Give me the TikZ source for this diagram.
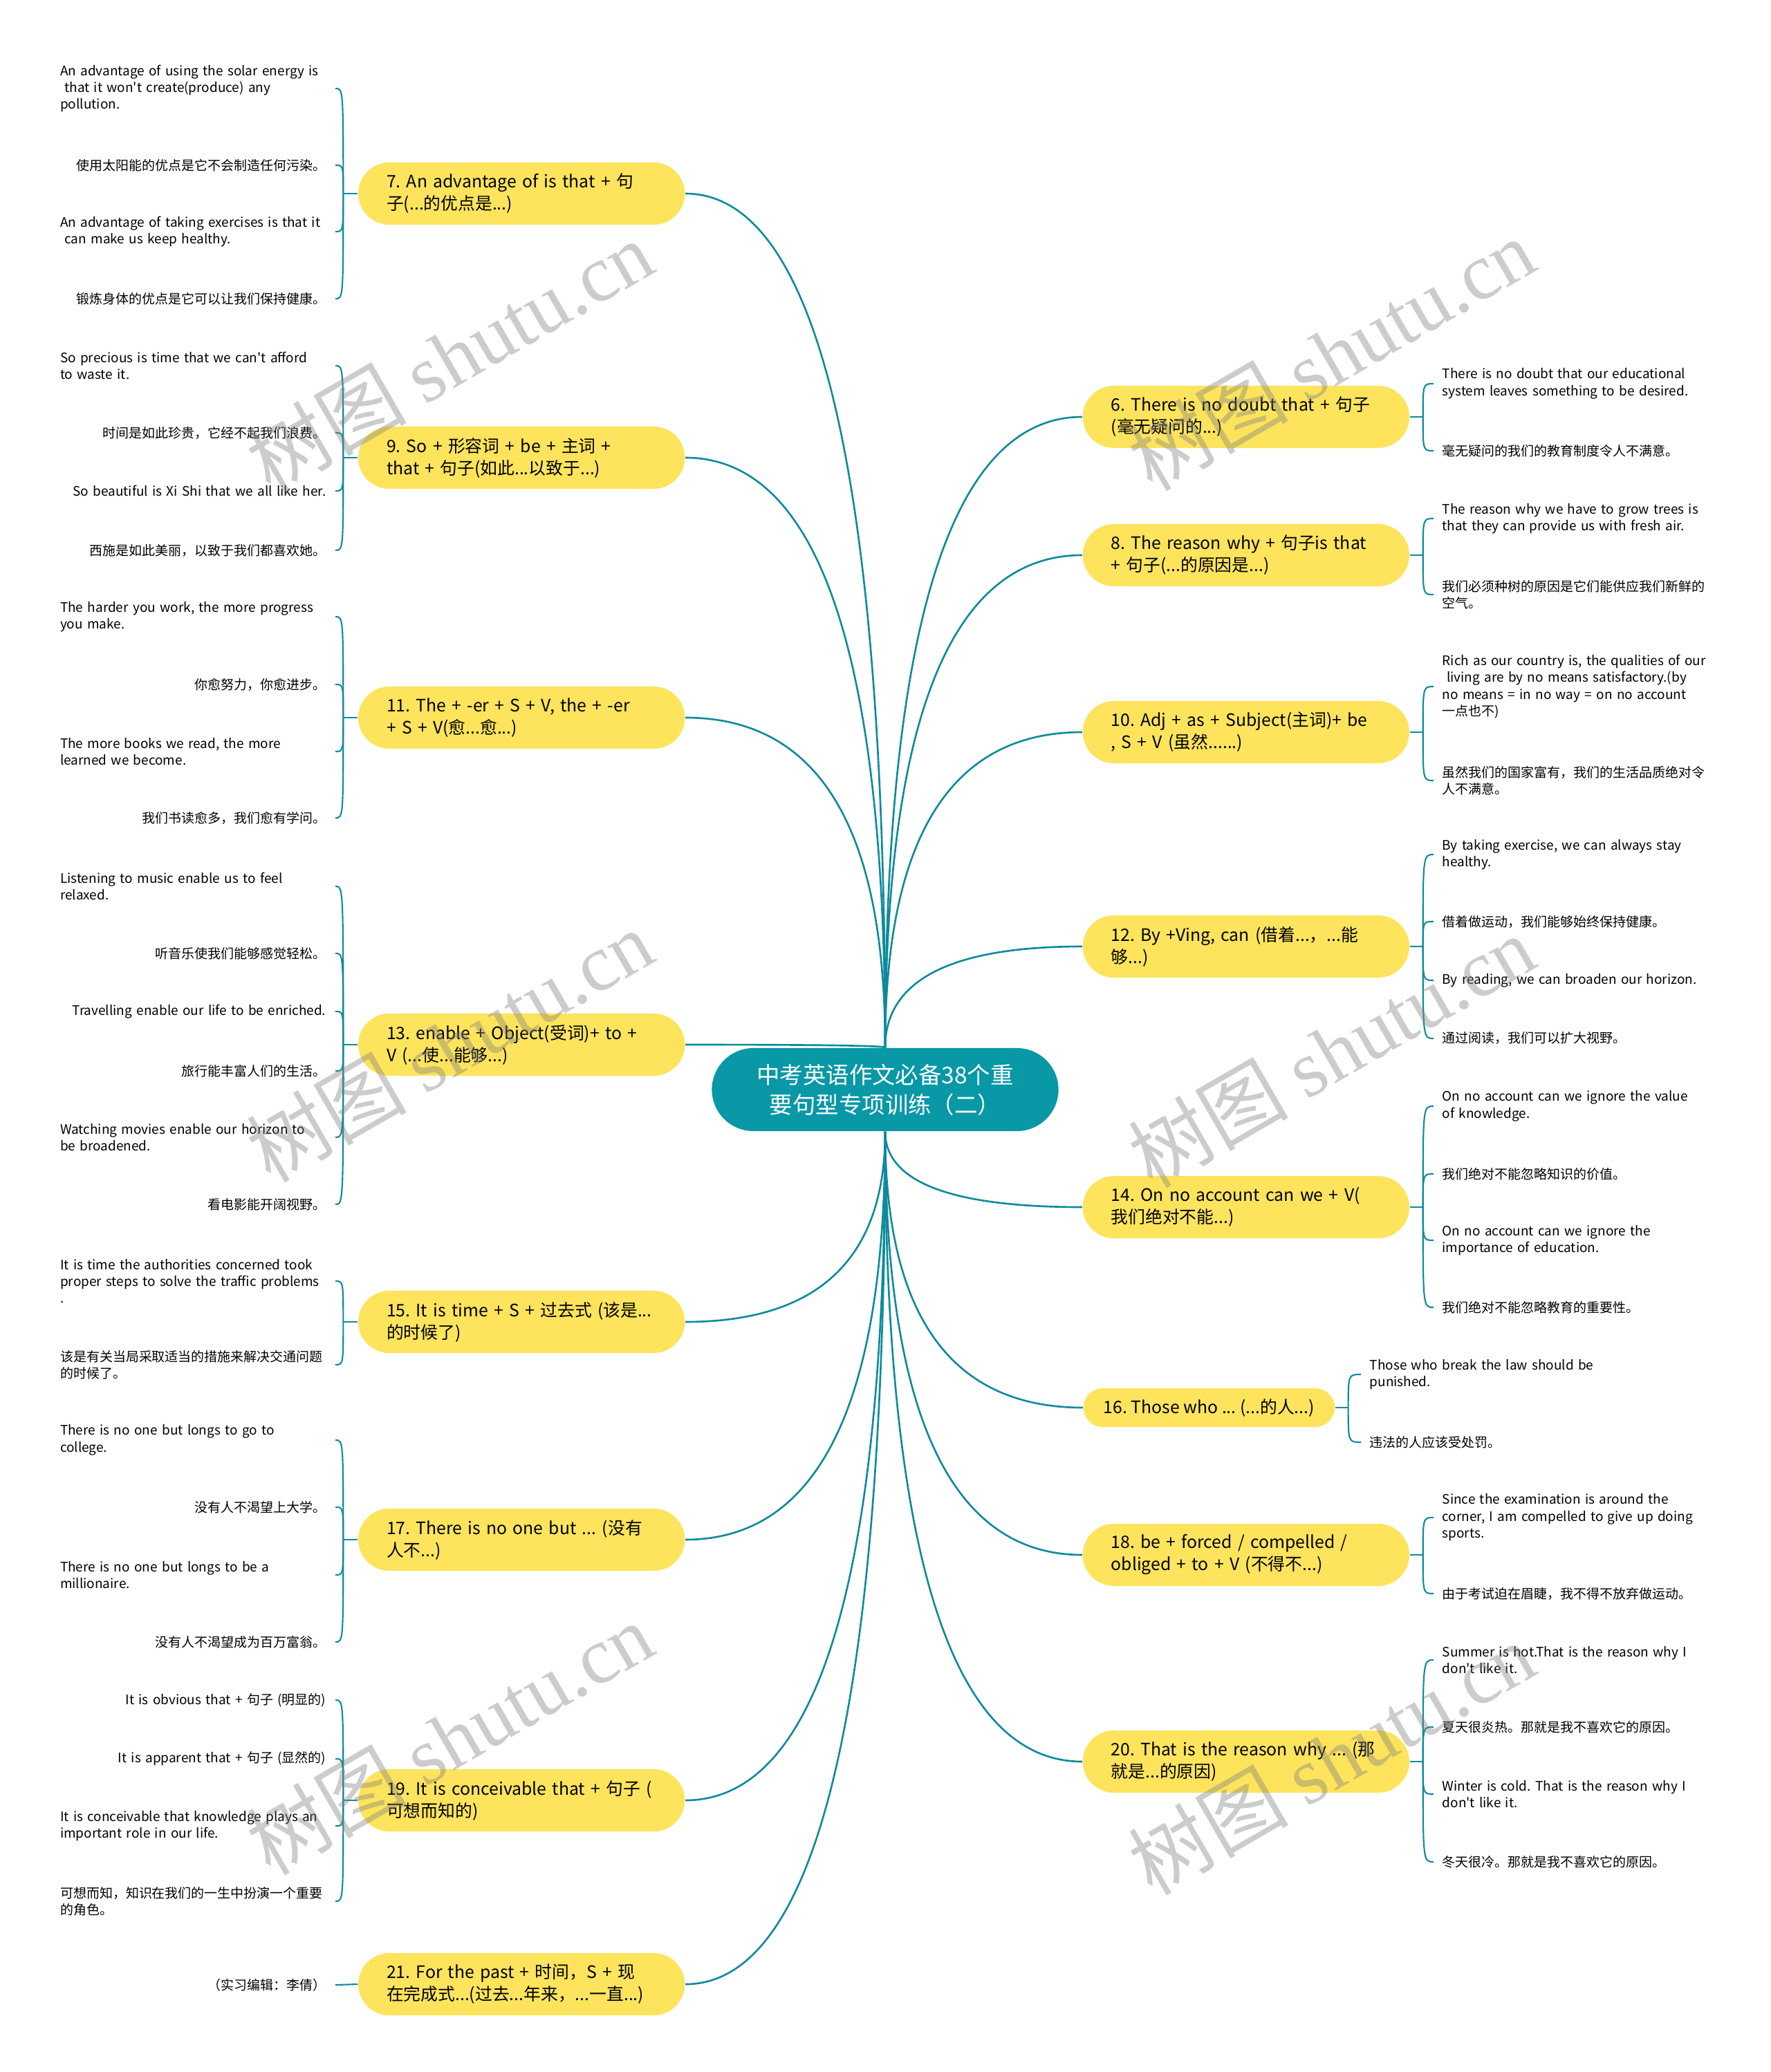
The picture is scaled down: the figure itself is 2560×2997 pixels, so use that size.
\documentclass[tikz,border=0pt]{standalone}
\usepackage{fontspec}
\setmainfont{Noto Sans CJK SC}
\newfontfamily\wmfont{Liberation Serif}
\usetikzlibrary{calc}

\definecolor{rootteal}{RGB}{8,152,166}
\definecolor{lineteal}{RGB}{14,139,155}
\definecolor{topicyellow}{RGB}{253,228,92}

\pgfdeclarelayer{background}
\pgfsetlayers{background,main}

\tikzset{
  rootnode/.style={fill=rootteal, text=white, rounded corners=0.6cm, minimum width=5.01cm,
    minimum height=1.2cm, align=center, font=\fontsize{9.5pt}{12.2pt}\selectfont},
  topic/.style={fill=topicyellow, rounded corners=0.45cm, minimum height=0.9cm, text width=3.9cm,
    inner xsep=0.41cm, inner ysep=0.08cm, align=left, font=\fontsize{7.05pt}{9.1pt}\selectfont},
  topicshort/.style={fill=topicyellow, rounded corners=0.28cm, minimum height=0.56cm,
    inner xsep=0.29cm, inner ysep=0.05cm, font=\fontsize{7.05pt}{9.1pt}\selectfont},
  noteL/.style={anchor=east, inner xsep=0.13cm, inner ysep=0pt, text width=3.84cm, align=left,
    font=\fontsize{5.4pt}{6.95pt}\selectfont},
  noteLone/.style={noteL, align=right},
  noteR/.style={anchor=west, inner xsep=0.12cm, inner ysep=0pt, text width=3.9cm, align=left,
    font=\fontsize{5.4pt}{6.95pt}\selectfont},
  branch/.style={draw=lineteal, line width=0.75pt},
  twig/.style={draw=lineteal, line width=0.6pt},
  watermark/.style={text=gray, text opacity=0.4, rotate=30, font=\fontsize{33pt}{33pt}\selectfont}
}

\begin{document}
\frenchspacing
\begin{tikzpicture}[x=0.01cm, y=-0.01cm]

\useasboundingbox (0,0) rectangle (2560,2997);

%%%%%%%%%%%%%%%%%%%%%%%%
% centre
%%%%%%%%%%%%%%%%%%%%%%%%

\node[rootnode] (root) at (1280,1576) {中考英语作文必备38个重\\要句型专项训练（二）};

%%%%%%%%%%%%%%%%%%%%%%%%
% left topics
%%%%%%%%%%%%%%%%%%%%%%%%

\node[topic, anchor=east] (b7) at (991,280) {7. An advantage of is that + 句\\子(...的优点是...)};
\node[topic, anchor=east] (b9) at (991,662) {9. So + 形容词 + be + 主词 +\\that + 句子(如此...以致于...)};
\node[topic, anchor=east] (b11) at (991,1038) {11. The + -er + S + V, the + -er\\+ S + V(愈...愈...)};
\node[topic, anchor=east] (b13) at (991,1511) {13. enable + Object(受词)+ to +\\V (...使...能够...)};
\node[topic, anchor=east] (b15) at (991,1912) {15. It is time + S + 过去式 (该是...\\的时候了)};
\node[topic, anchor=east] (b17) at (991,2227) {17. There is no one but ... (没有\\人不...)};
\node[topic, anchor=east] (b19) at (991,2604) {19. It is conceivable that + 句子 (\\可想而知的)};
\node[topic, anchor=east] (b21) at (991,2870) {21. For the past + 时间，S + 现\\在完成式...(过去...年来，...一直...)};

%%%%%%%%%%%%%%%%%%%%%%%%
% right topics
%%%%%%%%%%%%%%%%%%%%%%%%

\node[topic, anchor=west] (b6) at (1565,603) {6. There is no doubt that + 句子\\(毫无疑问的...)};
\node[topic, anchor=west] (b8) at (1565,803) {8. The reason why + 句子is that\\+ 句子(...的原因是...)};
\node[topic, anchor=west] (b10) at (1565,1059) {10. Adj + as + Subject(主词)+ be\\, S + V (虽然......)};
\node[topic, anchor=west] (b12) at (1565,1369) {12. By +Ving, can (借着...，...能\\够...)};
\node[topic, anchor=west] (b14) at (1565,1746) {14. On no account can we + V(\\我们绝对不能...)};
\node[topicshort, anchor=west] (b16) at (1566,2036) {16. Those who ... (...的人...)};
\node[topic, anchor=west] (b18) at (1565,2249) {18. be + forced / compelled /\\obliged + to + V (不得不...)};
\node[topic, anchor=west] (b20) at (1565,2548) {20. That is the reason why ... (那\\就是...的原因)};

%%%%%%%%%%%%%%%%%%%%%%%%
% hubs
%%%%%%%%%%%%%%%%%%%%%%%%

\coordinate (h7) at ($(b7.west)+(-21,0)$);
\coordinate (h9) at ($(b9.west)+(-21,0)$);
\coordinate (h11) at ($(b11.west)+(-21,0)$);
\coordinate (h13) at ($(b13.west)+(-21,0)$);
\coordinate (h15) at ($(b15.west)+(-21,0)$);
\coordinate (h17) at ($(b17.west)+(-21,0)$);
\coordinate (h19) at ($(b19.west)+(-21,0)$);

\coordinate (h6) at ($(b6.east)+(19,0)$);
\coordinate (h8) at ($(b8.east)+(19,0)$);
\coordinate (h10) at ($(b10.east)+(19,0)$);
\coordinate (h12) at ($(b12.east)+(19,0)$);
\coordinate (h14) at ($(b14.east)+(19,0)$);
\coordinate (h16) at ($(b16.east)+(19,0)$);
\coordinate (h18) at ($(b18.east)+(19,0)$);
\coordinate (h20) at ($(b20.east)+(19,0)$);

%%%%%%%%%%%%%%%%%%%%%%%%
% left notes
%%%%%%%%%%%%%%%%%%%%%%%%

\node[noteL] (l7a) at (485,128) {An advantage of using the solar energy is\\ \ that it won\textquotesingle t create(produce) any\\pollution.};
\node[noteLone] (l7b) at (485,239) {使用太阳能的优点是它不会制造任何污染。};
\node[noteL] (l7c) at (485,335) {An advantage of taking exercises is that it\\ \ can make us keep healthy.};
\node[noteLone] (l7d) at (485,432) {锻炼身体的优点是它可以让我们保持健康。};

\node[noteL] (l9a) at (485,529) {So precious is time that we can\textquotesingle t afford\\to waste it.};
\node[noteLone] (l9b) at (485,626) {时间是如此珍贵，它经不起我们浪费。};
\node[noteLone] (l9c) at (485,710) {So beautiful is Xi Shi that we all like her.};
\node[noteLone] (l9d) at (485,796) {西施是如此美丽，以致于我们都喜欢她。};

\node[noteL] (l11a) at (485,892) {The harder you work, the more progress\\you make.};
\node[noteLone] (l11b) at (485,990) {你愈努力，你愈进步。};
\node[noteL] (l11c) at (485,1087) {The more books we read, the more\\learned we become.};
\node[noteLone] (l11d) at (485,1183) {我们书读愈多，我们愈有学问。};

\node[noteL] (l13a) at (485,1282) {Listening to music enable us to feel\\relaxed.};
\node[noteLone] (l13b) at (485,1379) {听音乐使我们能够感觉轻松。};
\node[noteLone] (l13c) at (485,1463) {Travelling enable our life to be enriched.};
\node[noteLone] (l13d) at (485,1549) {旅行能丰富人们的生活。};
\node[noteL] (l13e) at (485,1645) {Watching movies enable our horizon to\\be broadened.};
\node[noteLone] (l13f) at (485,1742) {看电影能开阔视野。};

\node[noteL] (l15a) at (485,1853) {It is time the authorities concerned took\\proper steps to solve the traffic problems\\.};
\node[noteL] (l15b) at (485,1974) {该是有关当局采取适当的措施来解决交通问题\\的时候了。};

\node[noteL] (l17a) at (485,2083) {There is no one but longs to go to\\college.};
\node[noteLone] (l17b) at (485,2180) {没有人不渴望上大学。};
\node[noteL] (l17c) at (485,2278) {There is no one but longs to be a\\millionaire.};
\node[noteLone] (l17d) at (485,2375) {没有人不渴望成为百万富翁。};

\node[noteLone] (l19a) at (485,2459) {It is obvious that + 句子 (明显的)};
\node[noteLone] (l19b) at (485,2544) {It is apparent that + 句子 (显然的)};
\node[noteL] (l19c) at (485,2641) {It is conceivable that knowledge plays an\\important role in our life.};
\node[noteL] (l19d) at (485,2750) {可想而知，知识在我们的一生中扮演一个重要\\的角色。};

\node[noteLone] (l21a) at (485,2871) {（实习编辑：李倩）};

%%%%%%%%%%%%%%%%%%%%%%%%
% right notes
%%%%%%%%%%%%%%%%%%%%%%%%

\node[noteR] (r6a) at (2073,555) {There is no doubt that our educational\\system leaves something to be desired.};
\node[noteR] (r6b) at (2073,652) {毫无疑问的我们的教育制度令人不满意。};

\node[noteR] (r8a) at (2073,750) {The reason why we have to grow trees is\\that they can provide us with fresh air.};
\node[noteR] (r8b) at (2073,860) {我们必须种树的原因是它们能供应我们新鲜的\\空气。};

\node[noteR] (r10a) at (2073,993) {Rich as our country is, the qualities of our\\ \ living are by no means satisfactory.(by\\no means = in no way = on no account\\一点也不)};
\node[noteR] (r10b) at (2073,1129) {虽然我们的国家富有，我们的生活品质绝对令\\人不满意。};

\node[noteR] (r12a) at (2073,1236) {By taking exercise, we can always stay\\healthy.};
\node[noteR] (r12b) at (2073,1333) {借着做运动，我们能够始终保持健康。};
\node[noteR] (r12c) at (2073,1418) {By reading, we can broaden our horizon.};
\node[noteR] (r12d) at (2073,1502) {通过阅读，我们可以扩大视野。};

\node[noteR] (r14a) at (2073,1600) {On no account can we ignore the value\\of knowledge.};
\node[noteR] (r14b) at (2073,1698) {我们绝对不能忽略知识的价值。};
\node[noteR] (r14c) at (2073,1794) {On no account can we ignore the\\importance of education.};
\node[noteR] (r14d) at (2073,1891) {我们绝对不能忽略教育的重要性。};

\node[noteR] (r16a) at (1968,1988) {Those who break the law should be\\punished.};
\node[noteR] (r16b) at (1968,2086) {违法的人应该受处罚。};

\node[noteR] (r18a) at (2073,2195) {Since the examination is around the\\corner, I am compelled to give up doing\\sports.};
\node[noteR] (r18b) at (2073,2305) {由于考试迫在眉睫，我不得不放弃做运动。};

\node[noteR] (r20a) at (2073,2401) {Summer is hot.That is the reason why I\\don\textquotesingle t like it.};
\node[noteR] (r20b) at (2073,2498) {夏天很炎热。那就是我不喜欢它的原因。};
\node[noteR] (r20c) at (2073,2595) {Winter is cold. That is the reason why I\\don\textquotesingle t like it.};
\node[noteR] (r20d) at (2073,2693) {冬天很冷。那就是我不喜欢它的原因。};

%%%%%%%%%%%%%%%%%%%%%%%%
% connectors
%%%%%%%%%%%%%%%%%%%%%%%%

\begin{pgfonlayer}{background}

\draw[branch] (root.north) .. controls ($(root.north)!0.667!(root.north |- b7.east)$) and ($(b7.east)!0.667!(root.north |- b7.east)$) .. (b7.east);
\draw[branch] (root.north) .. controls ($(root.north)!0.667!(root.north |- b9.east)$) and ($(b9.east)!0.667!(root.north |- b9.east)$) .. (b9.east);
\draw[branch] (root.north) .. controls ($(root.north)!0.667!(root.north |- b11.east)$) and ($(b11.east)!0.667!(root.north |- b11.east)$) .. (b11.east);
\draw[branch] (root.north) .. controls ($(root.north)!0.667!(root.north |- b13.east)$) and ($(b13.east)!0.667!(root.north |- b13.east)$) .. (b13.east);
\draw[branch] (root.south) .. controls ($(root.south)!0.667!(root.south |- b15.east)$) and ($(b15.east)!0.667!(root.south |- b15.east)$) .. (b15.east);
\draw[branch] (root.south) .. controls ($(root.south)!0.667!(root.south |- b17.east)$) and ($(b17.east)!0.667!(root.south |- b17.east)$) .. (b17.east);
\draw[branch] (root.south) .. controls ($(root.south)!0.667!(root.south |- b19.east)$) and ($(b19.east)!0.667!(root.south |- b19.east)$) .. (b19.east);
\draw[branch] (root.south) .. controls ($(root.south)!0.667!(root.south |- b21.east)$) and ($(b21.east)!0.667!(root.south |- b21.east)$) .. (b21.east);

\draw[branch] (root.north) .. controls ($(root.north)!0.667!(root.north |- b6.west)$) and ($(b6.west)!0.667!(root.north |- b6.west)$) .. (b6.west);
\draw[branch] (root.north) .. controls ($(root.north)!0.667!(root.north |- b8.west)$) and ($(b8.west)!0.667!(root.north |- b8.west)$) .. (b8.west);
\draw[branch] (root.north) .. controls ($(root.north)!0.667!(root.north |- b10.west)$) and ($(b10.west)!0.667!(root.north |- b10.west)$) .. (b10.west);
\draw[branch] (root.north) .. controls ($(root.north)!0.667!(root.north |- b12.west)$) and ($(b12.west)!0.667!(root.north |- b12.west)$) .. (b12.west);
\draw[branch] (root.south) .. controls ($(root.south)!0.667!(root.south |- b14.west)$) and ($(b14.west)!0.667!(root.south |- b14.west)$) .. (b14.west);
\draw[branch] (root.south) .. controls ($(root.south)!0.667!(root.south |- b16.west)$) and ($(b16.west)!0.667!(root.south |- b16.west)$) .. (b16.west);
\draw[branch] (root.south) .. controls ($(root.south)!0.667!(root.south |- b18.west)$) and ($(b18.west)!0.667!(root.south |- b18.west)$) .. (b18.west);
\draw[branch] (root.south) .. controls ($(root.south)!0.667!(root.south |- b20.west)$) and ($(b20.west)!0.667!(root.south |- b20.west)$) .. (b20.west);

% left brackets
\draw[twig] (b7.west) -- (h7);
\draw[twig] (h7) .. controls (h7 |- l7a.east) .. (l7a.east);
\draw[twig] (h7) .. controls (h7 |- l7b.east) .. (l7b.east);
\draw[twig] (h7) .. controls (h7 |- l7c.east) .. (l7c.east);
\draw[twig] (h7) .. controls (h7 |- l7d.east) .. (l7d.east);

\draw[twig] (b9.west) -- (h9);
\draw[twig] (h9) .. controls (h9 |- l9a.east) .. (l9a.east);
\draw[twig] (h9) .. controls (h9 |- l9b.east) .. (l9b.east);
\draw[twig] (h9) .. controls (h9 |- l9c.east) .. (l9c.east);
\draw[twig] (h9) .. controls (h9 |- l9d.east) .. (l9d.east);

\draw[twig] (b11.west) -- (h11);
\draw[twig] (h11) .. controls (h11 |- l11a.east) .. (l11a.east);
\draw[twig] (h11) .. controls (h11 |- l11b.east) .. (l11b.east);
\draw[twig] (h11) .. controls (h11 |- l11c.east) .. (l11c.east);
\draw[twig] (h11) .. controls (h11 |- l11d.east) .. (l11d.east);

\draw[twig] (b13.west) -- (h13);
\draw[twig] (h13) .. controls (h13 |- l13a.east) .. (l13a.east);
\draw[twig] (h13) .. controls (h13 |- l13b.east) .. (l13b.east);
\draw[twig] (h13) .. controls (h13 |- l13c.east) .. (l13c.east);
\draw[twig] (h13) .. controls (h13 |- l13d.east) .. (l13d.east);
\draw[twig] (h13) .. controls (h13 |- l13e.east) .. (l13e.east);
\draw[twig] (h13) .. controls (h13 |- l13f.east) .. (l13f.east);

\draw[twig] (b15.west) -- (h15);
\draw[twig] (h15) .. controls (h15 |- l15a.east) .. (l15a.east);
\draw[twig] (h15) .. controls (h15 |- l15b.east) .. (l15b.east);

\draw[twig] (b17.west) -- (h17);
\draw[twig] (h17) .. controls (h17 |- l17a.east) .. (l17a.east);
\draw[twig] (h17) .. controls (h17 |- l17b.east) .. (l17b.east);
\draw[twig] (h17) .. controls (h17 |- l17c.east) .. (l17c.east);
\draw[twig] (h17) .. controls (h17 |- l17d.east) .. (l17d.east);

\draw[twig] (b19.west) -- (h19);
\draw[twig] (h19) .. controls (h19 |- l19a.east) .. (l19a.east);
\draw[twig] (h19) .. controls (h19 |- l19b.east) .. (l19b.east);
\draw[twig] (h19) .. controls (h19 |- l19c.east) .. (l19c.east);
\draw[twig] (h19) .. controls (h19 |- l19d.east) .. (l19d.east);

\draw[twig] (b21.west) -- (l21a.east);

% right brackets
\draw[twig] (b6.east) -- (h6);
\draw[twig] (h6) .. controls (h6 |- r6a.west) .. (r6a.west);
\draw[twig] (h6) .. controls (h6 |- r6b.west) .. (r6b.west);

\draw[twig] (b8.east) -- (h8);
\draw[twig] (h8) .. controls (h8 |- r8a.west) .. (r8a.west);
\draw[twig] (h8) .. controls (h8 |- r8b.west) .. (r8b.west);

\draw[twig] (b10.east) -- (h10);
\draw[twig] (h10) .. controls (h10 |- r10a.west) .. (r10a.west);
\draw[twig] (h10) .. controls (h10 |- r10b.west) .. (r10b.west);

\draw[twig] (b12.east) -- (h12);
\draw[twig] (h12) .. controls (h12 |- r12a.west) .. (r12a.west);
\draw[twig] (h12) .. controls (h12 |- r12b.west) .. (r12b.west);
\draw[twig] (h12) .. controls (h12 |- r12c.west) .. (r12c.west);
\draw[twig] (h12) .. controls (h12 |- r12d.west) .. (r12d.west);

\draw[twig] (b14.east) -- (h14);
\draw[twig] (h14) .. controls (h14 |- r14a.west) .. (r14a.west);
\draw[twig] (h14) .. controls (h14 |- r14b.west) .. (r14b.west);
\draw[twig] (h14) .. controls (h14 |- r14c.west) .. (r14c.west);
\draw[twig] (h14) .. controls (h14 |- r14d.west) .. (r14d.west);

\draw[twig] (b16.east) -- (h16);
\draw[twig] (h16) .. controls (h16 |- r16a.west) .. (r16a.west);
\draw[twig] (h16) .. controls (h16 |- r16b.west) .. (r16b.west);

\draw[twig] (b18.east) -- (h18);
\draw[twig] (h18) .. controls (h18 |- r18a.west) .. (r18a.west);
\draw[twig] (h18) .. controls (h18 |- r18b.west) .. (r18b.west);

\draw[twig] (b20.east) -- (h20);
\draw[twig] (h20) .. controls (h20 |- r20a.west) .. (r20a.west);
\draw[twig] (h20) .. controls (h20 |- r20b.west) .. (r20b.west);
\draw[twig] (h20) .. controls (h20 |- r20c.west) .. (r20c.west);
\draw[twig] (h20) .. controls (h20 |- r20d.west) .. (r20d.west);

\end{pgfonlayer}

%%%%%%%%%%%%%%%%%%%%%%%%
% watermarks
%%%%%%%%%%%%%%%%%%%%%%%%

\node[watermark] (wm1) at (650,515) {树图 {\wmfont shutu.cn}};
\node[watermark] (wm2) at (1925,512) {树图 {\wmfont shutu.cn}};
\node[watermark] (wm3) at (650,1512) {树图 {\wmfont shutu.cn}};
\node[watermark] (wm4) at (1925,1520) {树图 {\wmfont shutu.cn}};
\node[watermark] (wm5) at (650,2514) {树图 {\wmfont shutu.cn}};
\node[watermark] (wm6) at (1925,2543) {树图 {\wmfont shutu.cn}};

\end{tikzpicture}
\end{document}
